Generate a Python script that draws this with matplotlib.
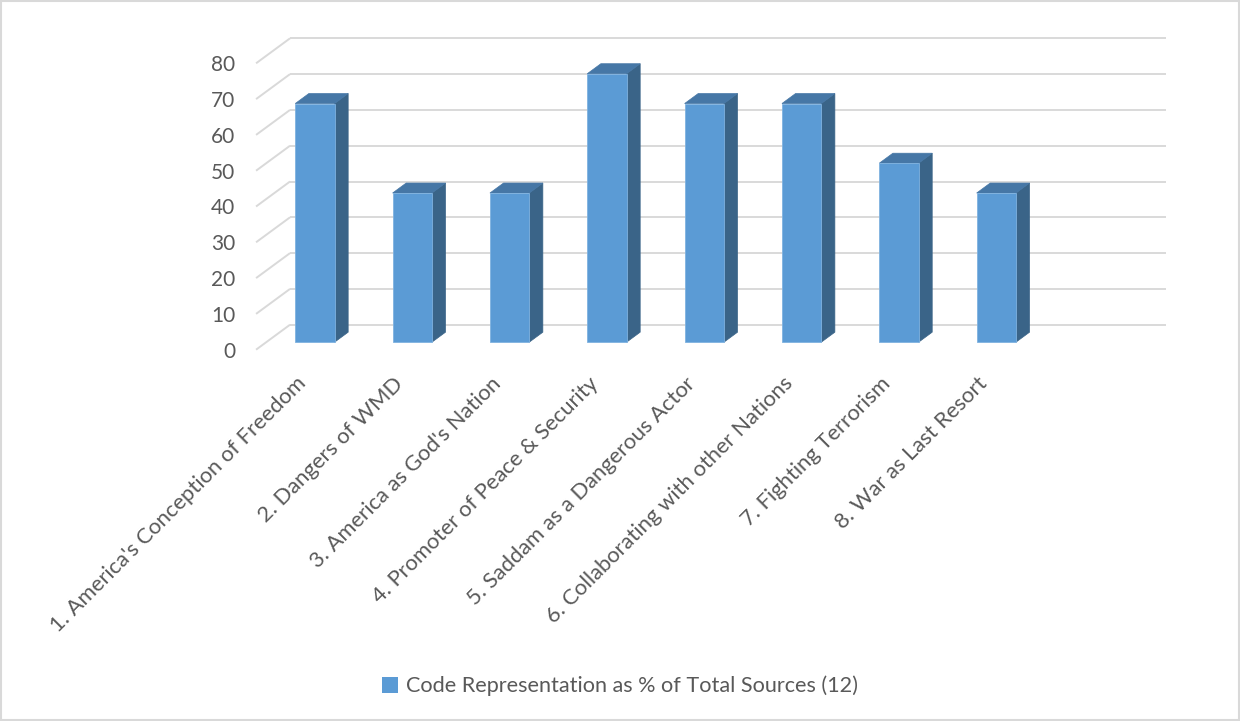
import matplotlib
matplotlib.use("Agg")
import matplotlib.pyplot as plt
import matplotlib.transforms as mtransforms
from matplotlib.patches import Polygon, Rectangle, Patch

categories = [
    "1. America's Conception of Freedom",
    "2. Dangers of WMD",
    "3. America as God's Nation",
    "4. Promoter of Peace & Security",
    "5. Saddam as a Dangerous Actor",
    "6. Collaborating with other Nations",
    "7. Fighting Terrorism",
    "8. War as Last Resort",
]
# share of the 12 sources that carry each code, in percent
values = [66.67, 41.67, 41.67, 75.0, 66.67, 66.67, 50.0, 41.67]
series_name = "Code Representation as % of Total Sources (12)"
yticks = [0, 10, 20, 30, 40, 50, 60, 70, 80]

FRONT = "#5B9BD5"
SIDE = "#3A6488"
TOP = "#4677A6"
GRID = "#D9D9D9"
TEXT = "#595959"

plt.rcParams["font.family"] = ["Lato", "DejaVu Sans"]

fig = plt.figure(figsize=(12.4, 7.21), dpi=100)
ax = fig.add_axes([0.2065, 0.515, 0.7065, 0.3972])
ax.set_xlim(-0.5, 8.5)
ax.set_ylim(0, 80)

# oblique depth of the box (data units): back wall sits at front + depth
depth_x, depth_y = 0.349, 6.98
bar_w = 0.404
f0, f1 = 0.3, 0.7  # bar front / back as fractions of the depth

# side wall diagonals and back wall gridlines
x0, x1 = ax.get_xlim()
for v in yticks:
    ax.plot([x0, x0 + depth_x], [v, v + depth_y], color=GRID, lw=1.4,
            clip_on=False, zorder=1, solid_capstyle="butt")
    ax.plot([x0 + depth_x, x1 + depth_x], [v + depth_y, v + depth_y],
            color=GRID, lw=1.4, clip_on=False, zorder=1, solid_capstyle="butt")

# 3d columns: front face, right side, top
for i, v in enumerate(values):
    xl = i - bar_w / 2 + f0 * depth_x
    xr = xl + bar_w
    yb = f0 * depth_y
    yt = yb + v
    dx = (f1 - f0) * depth_x
    dy = (f1 - f0) * depth_y
    side = Polygon([(xr, yb), (xr + dx, yb + dy), (xr + dx, yt + dy), (xr, yt)],
                   closed=True, facecolor=SIDE, edgecolor=SIDE, lw=0.5,
                   clip_on=False, zorder=3)
    top = Polygon([(xl, yt), (xl + dx, yt + dy), (xr + dx, yt + dy), (xr, yt)],
                  closed=True, facecolor=TOP, edgecolor=TOP, lw=0.5,
                  clip_on=False, zorder=3)
    ax.add_patch(side)
    ax.add_patch(top)
    ax.bar(xl, v, width=bar_w, bottom=yb, align="edge", color=FRONT,
           edgecolor="#7FB2E0", lw=0.6, clip_on=False, zorder=4)

for s in ax.spines.values():
    s.set_visible(False)
ax.set_yticks(yticks)
ax.set_yticklabels([str(t) for t in yticks])
ax.set_xticks(range(len(categories)))
ax.set_xticklabels(categories, rotation=45, ha="right", rotation_mode="anchor")
ax.tick_params(axis="y", length=0, pad=15, labelsize=15, labelcolor=TEXT)
ax.tick_params(axis="x", length=0, pad=17, labelsize=15.8, labelcolor=TEXT)

# pull the slanted labels left so their ends sit under the columns
shift = mtransforms.ScaledTranslation(-0.09, 0, fig.dpi_scale_trans)
for lbl in ax.get_xticklabels():
    lbl.set_transform(lbl.get_transform() + shift)

leg = fig.legend(handles=[Patch(facecolor=FRONT, label=series_name)],
                 loc="center", bbox_to_anchor=(0.5, 1 - 686 / 721),
                 frameon=False, fontsize=15.6, handlelength=0.75,
                 handleheight=0.75, handletextpad=0.4)
for t in leg.get_texts():
    t.set_color(TEXT)

fig.patches.append(Rectangle((0.001, 0.001), 0.998, 0.997,
                             transform=fig.transFigure, fill=False,
                             edgecolor=GRID, lw=1.5))

fig.savefig("out.png", dpi=100, facecolor="white")
